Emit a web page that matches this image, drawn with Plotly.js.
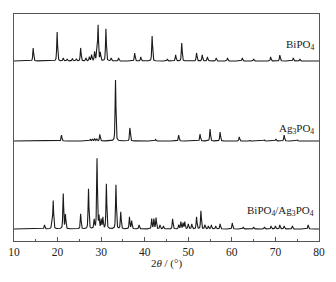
<!DOCTYPE html>
<html>
<head>
<meta charset="utf-8">
<script src="https://cdn.plot.ly/plotly-3.0.1.min.js"></script>
<style>html,body{margin:0;padding:0;background:#fff;}#chart{width:336px;height:282px;}</style>
</head>
<body>
<div id="chart"></div>
<script>
// Peak tables: 2θ positions (°) and peak heights (arbitrary units)
const bipo4Pos = [14.4, 19.9, 21.3, 22.2, 23.4, 24.3, 25.3, 26.5, 27.3, 27.8, 28.5, 29.0, 29.3, 29.8, 31.1, 32.3, 34.0, 37.7, 39.1, 41.7, 45.2, 47.1, 48.5, 51.9, 53.2, 54.4, 56.4, 59.0, 62.4, 65.0, 68.9, 71.0, 74.1, 75.6];
const bipo4Int = [13, 29, 3, 2, 2.5, 2, 13, 3, 4, 6, 9, 12, 35, 8, 32, 3, 3, 8, 4, 25, 2, 6, 18, 8, 6, 4, 3, 3, 3, 2, 4, 6, 3, 2];

const ag3po4Pos = [20.9, 27.5, 28.0, 28.5, 29.0, 29.7, 33.3, 36.6, 42.5, 47.8, 52.7, 55.0, 57.3, 61.7, 64.0, 67.4, 70.1, 72.0, 75.0];
const ag3po4Int = [6, 1.5, 2, 2.5, 2, 6.5, 61, 13, 1.5, 6, 7, 12, 9, 4, 1, 1, 2, 6, 1];

const compPos = [17.0, 18.7, 19.0, 21.3, 21.8, 25.3, 27.1, 28.4, 29.05, 29.5, 30.0, 30.4, 31.2, 33.4, 34.5, 36.5, 37.0, 38.7, 41.6, 42.1, 42.6, 43.5, 44.3, 46.4, 47.8, 48.3, 48.8, 49.2, 50.0, 50.8, 51.9, 52.9, 53.8, 54.6, 55.3, 56.3, 57.3, 60.1, 62.6, 65.0, 67.5, 69.0, 70.0, 71.0, 72.0, 73.9, 77.5];
const compInt = [4, 8, 28, 35, 14, 15, 40, 9, 70, 12, 9, 11, 45, 44, 17, 12, 8, 4, 10, 10, 11, 4, 3, 10, 4, 7, 6, 7, 5, 5, 12, 18, 4, 3, 4, 3, 5, 6, 2, 2, 2, 3, 3, 4, 3, 3, 4];

const seriesNames = ["BiPO<sub>4</sub>", "Ag<sub>3</sub>PO<sub>4</sub>", "BiPO<sub>4</sub>/Ag<sub>3</sub>PO<sub>4</sub>"];
const xTicks = [10, 20, 30, 40, 50, 60, 70, 80];

// stacking offsets (vertical stacking of the patterns)
const offsets = [180, 100, 12];

function profile(pos, inten, base) {
  const w = 0.22, eta = 0.5;
  const xs = [];
  for (let i = 0; i <= 3500; i++) xs.push(10 + i * 0.02);
  pos.forEach(p => xs.push(p));
  xs.sort((a, b) => a - b);
  const ys = xs.map(x => {
    let s = 0;
    for (let k = 0; k < pos.length; k++) {
      const d = (x - pos[k]) / (w / 2);
      const L = 1 / (1 + d * d);
      const G = Math.exp(-Math.LN2 * d * d);
      s += inten[k] * (eta * L + (1 - eta) * G);
    }
    return base + s;
  });
  return {x: xs, y: ys};
}

const pats = [
  profile(bipo4Pos, bipo4Int, offsets[0]),
  profile(ag3po4Pos, ag3po4Int, offsets[1]),
  profile(compPos, compInt, offsets[2])
];

const traces = pats.map(p => ({
  x: p.x, y: p.y, type: 'scatter', mode: 'lines',
  line: {color: '#1a1a1a', width: 1.1}, hoverinfo: 'skip', showlegend: false
}));

const family = 'Liberation Serif, Times New Roman, serif';
const tickFont = {family: family, size: 11.5, color: '#222'};
const labelFont = {family: family, size: 11, color: '#222'};

const labelY = [196, 112, 30];
const annotations = seriesNames.map((t, i) => ({
  x: 79.3, y: labelY[i], xref: 'x', yref: 'y', text: t, showarrow: false,
  xanchor: 'right', yanchor: 'middle', font: labelFont
}));

const layout = {
  width: 336, height: 282,
  margin: {l: 14, r: 17, t: 14, b: 41},
  paper_bgcolor: '#fff', plot_bgcolor: '#fff',
  font: tickFont,
  xaxis: {
    range: [10, 80], tickvals: xTicks, ticktext: xTicks.map(String),
    ticks: 'inside', ticklen: 4, tickcolor: '#555', tickwidth: 1,
    minor: {ticks: 'inside', ticklen: 2, dtick: 5, tickcolor: '#555'},
    showline: true, linecolor: '#555', linewidth: 1, mirror: true,
    showgrid: false, zeroline: false,
    tickfont: tickFont,
    title: {text: '2<i>θ</i> / (°)', font: labelFont, standoff: 2}
  },
  yaxis: {
    range: [0, 227], showticklabels: false, ticks: '',
    showline: true, linecolor: '#555', linewidth: 1, mirror: true,
    showgrid: false, zeroline: false
  },
  annotations: annotations
};

Plotly.newPlot('chart', traces, layout, {staticPlot: true, displayModeBar: false});
</script>
</body>
</html>
